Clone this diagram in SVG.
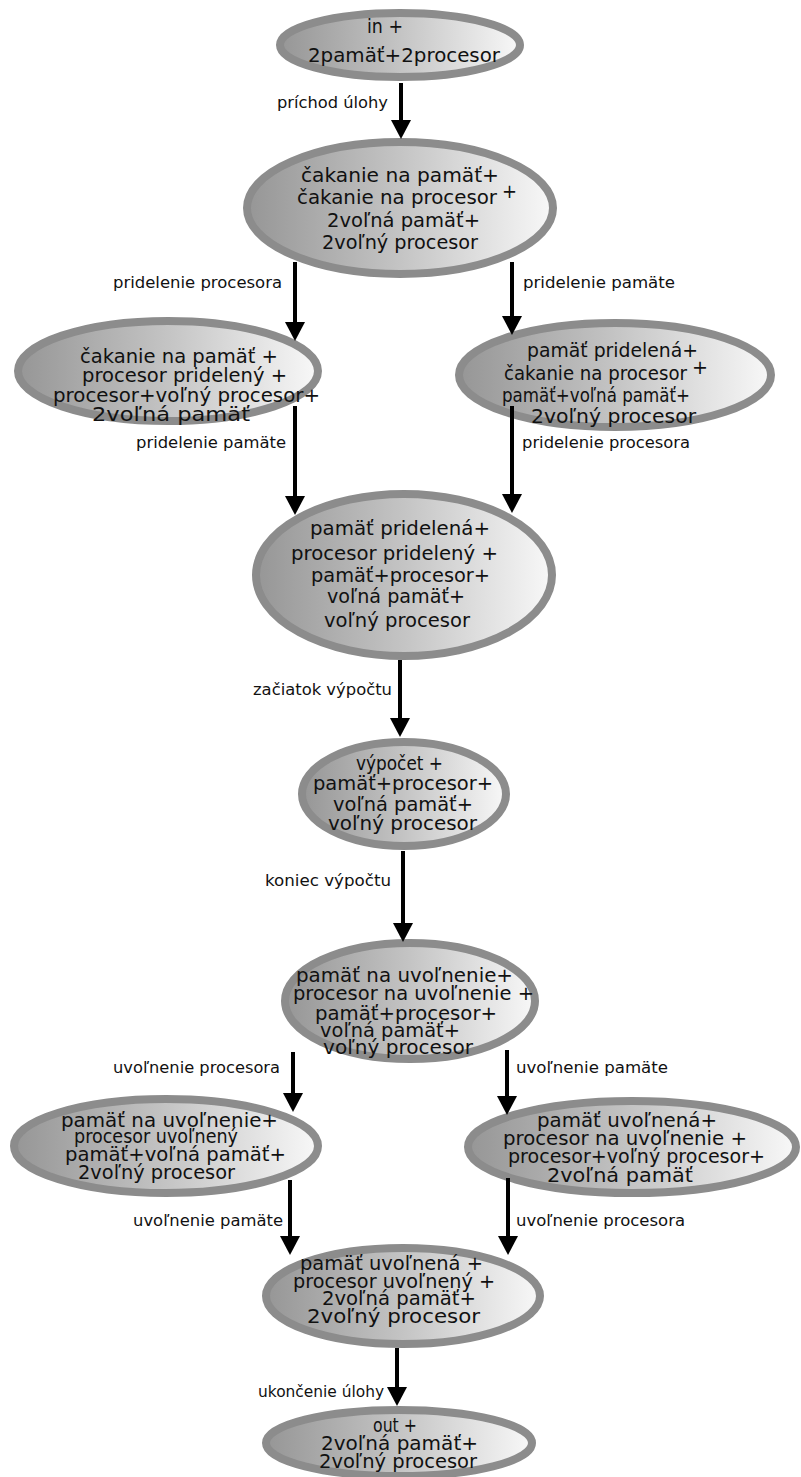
<svg xmlns="http://www.w3.org/2000/svg" width="801" height="1477" viewBox="0 0 801 1477">
  <defs>
    <linearGradient id="shade" x1="0" y1="0" x2="1" y2="0">
      <stop offset="0" stop-color="#969696"/>
      <stop offset="0.5" stop-color="#c4c4c4"/>
      <stop offset="1" stop-color="#f8f8f8"/>
    </linearGradient>
    <marker id="head" viewBox="0 0 19 20" refX="7" refY="10" markerWidth="19" markerHeight="20" markerUnits="userSpaceOnUse" orient="auto">
      <path d="M0,0 L19,10 L0,20 z" fill="#000"/>
    </marker>
  </defs>
  <style>
    .state ellipse { fill: url(#shade); stroke: #8c8c8c; stroke-width: 8; }
    .state text { font-family: "DejaVu Sans", Verdana, sans-serif; font-size: 20px; fill: #111; }
    .lbl { font-family: "DejaVu Sans", Verdana, sans-serif; font-size: 16px; fill: #111; }
    .edges path { stroke: #000; stroke-width: 4; fill: none; marker-end: url(#head); }
  </style>

  <rect width="801" height="1477" fill="#fff"/>

  <g id="n-in" class="state">
    <ellipse cx="400" cy="45" rx="120" ry="32"/>
    <text x="367" y="33" textLength="36" lengthAdjust="spacingAndGlyphs">in +</text>
    <text x="308" y="62" textLength="192" lengthAdjust="spacingAndGlyphs">2pamäť+2procesor</text>
  </g>

  <g id="n-wait-both" class="state">
    <ellipse cx="400" cy="208" rx="153" ry="66"/>
    <text x="301" y="182" textLength="198" lengthAdjust="spacingAndGlyphs">čakanie na pamäť+</text>
    <text x="297" y="204" textLength="200" lengthAdjust="spacingAndGlyphs">čakanie na procesor</text>
    <text x="502" y="198" textLength="15" lengthAdjust="spacingAndGlyphs">+</text>
    <text x="327" y="227" textLength="153" lengthAdjust="spacingAndGlyphs">2voľná pamäť+</text>
    <text x="322" y="249" textLength="156" lengthAdjust="spacingAndGlyphs">2voľný procesor</text>
  </g>

  <g id="n-proc-assigned" class="state">
    <ellipse cx="168" cy="371" rx="150" ry="50"/>
    <text x="80" y="363" textLength="198" lengthAdjust="spacingAndGlyphs">čakanie na pamäť +</text>
    <text x="82" y="382" textLength="205" lengthAdjust="spacingAndGlyphs">procesor pridelený +</text>
    <text x="53" y="402" textLength="267" lengthAdjust="spacingAndGlyphs">procesor+voľný procesor+</text>
    <text x="92" y="421" textLength="158" lengthAdjust="spacingAndGlyphs">2voľná pamäť</text>
  </g>

  <g id="n-mem-assigned" class="state">
    <ellipse cx="615" cy="375" rx="156" ry="52"/>
    <text x="527" y="357" textLength="171" lengthAdjust="spacingAndGlyphs">pamäť pridelená+</text>
    <text x="504" y="380" textLength="183" lengthAdjust="spacingAndGlyphs">čakanie na procesor</text>
    <text x="692" y="374" textLength="16" lengthAdjust="spacingAndGlyphs">+</text>
    <text x="502" y="402" textLength="188" lengthAdjust="spacingAndGlyphs">pamäť+voľná pamäť+</text>
    <text x="531" y="423" textLength="165" lengthAdjust="spacingAndGlyphs">2voľný procesor</text>
  </g>

  <g id="n-both-assigned" class="state">
    <ellipse cx="404" cy="575" rx="148" ry="81"/>
    <text x="310" y="535" textLength="180" lengthAdjust="spacingAndGlyphs">pamäť pridelená+</text>
    <text x="291" y="560" textLength="207" lengthAdjust="spacingAndGlyphs">procesor pridelený +</text>
    <text x="311" y="582" textLength="179" lengthAdjust="spacingAndGlyphs">pamäť+procesor+</text>
    <text x="327" y="603" textLength="138" lengthAdjust="spacingAndGlyphs">voľná pamäť+</text>
    <text x="324" y="627" textLength="146" lengthAdjust="spacingAndGlyphs">voľný procesor</text>
  </g>

  <g id="n-compute" class="state">
    <ellipse cx="404" cy="794" rx="102" ry="52"/>
    <text x="356" y="770" textLength="87" lengthAdjust="spacingAndGlyphs">výpočet +</text>
    <text x="313" y="790" textLength="180" lengthAdjust="spacingAndGlyphs">pamäť+procesor+</text>
    <text x="333" y="811" textLength="140" lengthAdjust="spacingAndGlyphs">voľná pamäť+</text>
    <text x="328" y="830" textLength="149" lengthAdjust="spacingAndGlyphs">voľný procesor</text>
  </g>

  <g id="n-to-release" class="state">
    <ellipse cx="410" cy="1001" rx="125" ry="58"/>
    <text x="296" y="982" textLength="217" lengthAdjust="spacingAndGlyphs">pamäť na uvoľnenie+</text>
    <text x="293" y="1000" textLength="241" lengthAdjust="spacingAndGlyphs">procesor na uvoľnenie +</text>
    <text x="315" y="1020" textLength="182" lengthAdjust="spacingAndGlyphs">pamäť+procesor+</text>
    <text x="320" y="1037" textLength="140" lengthAdjust="spacingAndGlyphs">voľná pamäť+</text>
    <text x="323" y="1054" textLength="150" lengthAdjust="spacingAndGlyphs">voľný procesor</text>
  </g>

  <g id="n-proc-released" class="state">
    <ellipse cx="166" cy="1146" rx="152" ry="47"/>
    <text x="61" y="1127" textLength="217" lengthAdjust="spacingAndGlyphs">pamäť na uvoľnenie+</text>
    <text x="74" y="1143" textLength="164" lengthAdjust="spacingAndGlyphs">procesor uvoľnený</text>
    <text x="65" y="1161" textLength="221" lengthAdjust="spacingAndGlyphs">pamäť+voľná pamäť+</text>
    <text x="78" y="1179" textLength="157" lengthAdjust="spacingAndGlyphs">2voľný procesor</text>
  </g>

  <g id="n-mem-released" class="state">
    <ellipse cx="632" cy="1147" rx="164" ry="46"/>
    <text x="537" y="1127" textLength="180" lengthAdjust="spacingAndGlyphs">pamäť uvoľnená+</text>
    <text x="503" y="1145" textLength="244" lengthAdjust="spacingAndGlyphs">procesor na uvoľnenie +</text>
    <text x="508" y="1163" textLength="257" lengthAdjust="spacingAndGlyphs">procesor+voľný procesor+</text>
    <text x="547" y="1182" textLength="146" lengthAdjust="spacingAndGlyphs">2voľná pamäť</text>
  </g>

  <g id="n-both-released" class="state">
    <ellipse cx="403" cy="1296" rx="137" ry="48"/>
    <text x="300" y="1270" textLength="183" lengthAdjust="spacingAndGlyphs">pamäť uvoľnená +</text>
    <text x="293" y="1288" textLength="202" lengthAdjust="spacingAndGlyphs">procesor uvoľnený +</text>
    <text x="322" y="1305" textLength="154" lengthAdjust="spacingAndGlyphs">2voľná pamäť+</text>
    <text x="307" y="1323" textLength="173" lengthAdjust="spacingAndGlyphs">2voľný procesor</text>
  </g>

  <g id="n-out" class="state">
    <ellipse cx="399" cy="1443" rx="133" ry="33"/>
    <text x="373" y="1432" textLength="44" lengthAdjust="spacingAndGlyphs">out +</text>
    <text x="321" y="1450" textLength="157" lengthAdjust="spacingAndGlyphs">2voľná pamäť+</text>
    <text x="319" y="1468" textLength="158" lengthAdjust="spacingAndGlyphs">2voľný procesor</text>
  </g>

  <!-- transitions: each line stops 12px short of where its arrow tip lands -->
  <g id="edges" class="edges">
    <path d="M401,83 V127"/>
    <path d="M295,262 V329"/>
    <path d="M512,262 V323"/>
    <path d="M295,406 V503"/>
    <path d="M512,406 V501"/>
    <path d="M400,660 V725"/>
    <path d="M403,851 V930"/>
    <path d="M293,1052 V1100"/>
    <path d="M507,1050 V1103"/>
    <path d="M290,1180 V1243"/>
    <path d="M508,1178 V1243"/>
    <path d="M397,1348 V1394"/>
  </g>

  <g id="edge-labels">
    <text class="lbl" x="277" y="108" textLength="111" lengthAdjust="spacingAndGlyphs">príchod úlohy</text>
    <text class="lbl" x="113" y="288" textLength="169" lengthAdjust="spacingAndGlyphs">pridelenie procesora</text>
    <text class="lbl" x="523" y="288" textLength="152" lengthAdjust="spacingAndGlyphs">pridelenie pamäte</text>
    <text class="lbl" x="136" y="448" textLength="150" lengthAdjust="spacingAndGlyphs">pridelenie pamäte</text>
    <text class="lbl" x="522" y="448" textLength="168" lengthAdjust="spacingAndGlyphs">pridelenie procesora</text>
    <text class="lbl" x="253" y="695" textLength="139" lengthAdjust="spacingAndGlyphs">začiatok výpočtu</text>
    <text class="lbl" x="265" y="886" textLength="126" lengthAdjust="spacingAndGlyphs">koniec výpočtu</text>
    <text class="lbl" x="113" y="1073" textLength="167" lengthAdjust="spacingAndGlyphs">uvoľnenie procesora</text>
    <text class="lbl" x="516" y="1073" textLength="152" lengthAdjust="spacingAndGlyphs">uvoľnenie pamäte</text>
    <text class="lbl" x="133" y="1226" textLength="150" lengthAdjust="spacingAndGlyphs">uvoľnenie pamäte</text>
    <text class="lbl" x="516" y="1226" textLength="169" lengthAdjust="spacingAndGlyphs">uvoľnenie procesora</text>
    <text class="lbl" x="258" y="1397" textLength="126" lengthAdjust="spacingAndGlyphs">ukončenie úlohy</text>
  </g>
</svg>
